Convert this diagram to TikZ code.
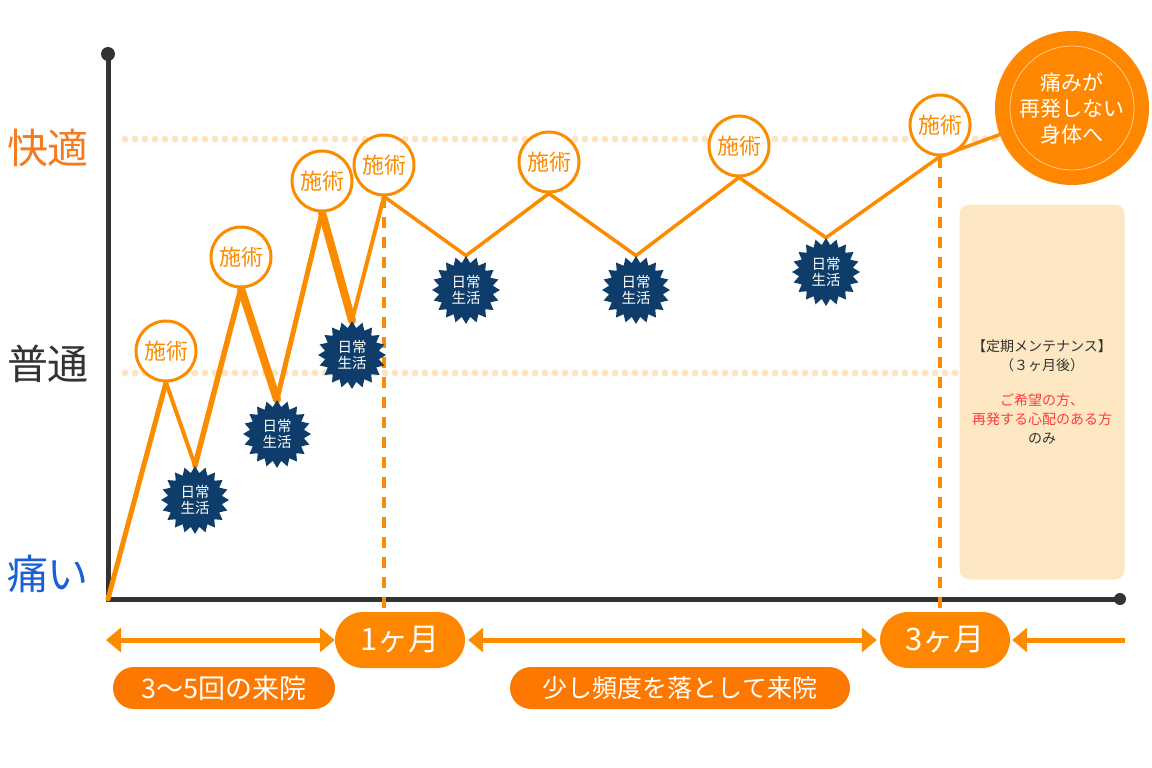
\documentclass[tikz,border=0pt]{standalone}
\usepackage{fontspec}
\setmainfont{Noto Sans CJK JP}
\usetikzlibrary{shapes.geometric,arrows.meta}
\pgfdeclarelayer{bg}
\pgfsetlayers{bg,main}
\definecolor{lineor}{HTML}{FB8C00}
\definecolor{pillor}{HTML}{FF8700}
\definecolor{labor}{HTML}{FD7800}
\definecolor{kaiteki}{HTML}{F47B20}
\definecolor{navy}{HTML}{0E3D6B}
\definecolor{painblue}{HTML}{1A5ED8}
\definecolor{axisgray}{HTML}{333333}
\definecolor{dotcol}{HTML}{FDE4C2}
\definecolor{boxcol}{HTML}{FDE8C3}
\definecolor{alertred}{HTML}{FF3B3B}
\begin{document}
\begin{tikzpicture}[x=1pt,y=-1pt,
  >={Triangle[length=15pt,width=24pt]},
  sejutsu/.style={circle, draw=lineor, line width=3pt, fill=white, minimum size=60pt, inner sep=0pt, text=lineor, font=\fontsize{22}{22}\selectfont},
  life/.style={star, star points=20, star point ratio=1.25, fill=navy, minimum size=68pt, inner sep=0pt, text=white, align=center, font=\fontsize{14.5}{16.5}\selectfont},
  mpill/.style={rectangle, rounded corners=28pt, fill=pillor, minimum width=130pt, minimum height=56pt, inner sep=0pt, text=white, font=\fontsize{31}{31}\selectfont},
  lpill/.style={rectangle, rounded corners=21pt, fill=labor, minimum height=42pt, inner sep=0pt, text=white, font=\fontsize{25}{25}\selectfont},
  ylab/.style={font=\fontsize{41}{41}\selectfont, inner sep=0pt},
  conn/.style={draw=lineor, line cap=round, line join=round},
  arr/.style={draw=lineor, line width=5pt},
  dashline/.style={draw=lineor, line width=4.5pt, dash pattern=on 11pt off 9pt},
  dotline/.style={draw=dotcol, line width=7pt, line cap=round, dash pattern=on 0pt off 10pt},
  axisline/.style={draw=axisgray, line width=5pt},
  rbox/.style={rectangle, rounded corners=10pt, fill=boxcol, minimum width=165pt, minimum height=375pt, align=center, text=axisgray, font=\fontsize{14}{19}\selectfont}
]
\useasboundingbox (0,0) rectangle (1152,768);

% axes
\coordinate (ytop) at (108,54);
\coordinate (o) at (108,599);
\coordinate (xend) at (1120,599);

% y labels
\node[ylab, text=kaiteki] (yk) at (48,148) {快適};
\node[ylab, text=axisgray] (yf) at (48,364) {普通};
\node[ylab, text=painblue] (yp) at (48,574) {痛い};

% treatment circles
\node[sejutsu] (c1) at (166,351) {施術};
\node[sejutsu] (c2) at (241,257) {施術};
\node[sejutsu] (c3) at (322,181) {施術};
\node[sejutsu] (c4) at (384,165) {施術};
\node[sejutsu] (c5) at (549,162) {施術};
\node[sejutsu] (c6) at (739,146) {施術};
\node[sejutsu] (c7) at (940,125) {施術};

% daily life stars
\node[life] (s1) at (195,500) {日常\\生活};
\node[life] (s2) at (277,434) {日常\\生活};
\node[life] (s3) at (352,355) {日常\\生活};
\node[life] (s4) at (466,290) {日常\\生活};
\node[life] (s5) at (636,290) {日常\\生活};
\node[life] (s6) at (826,272) {日常\\生活};

% big goal circle
\node[circle, fill=pillor, minimum size=154pt, inner sep=0pt, text=white, align=center, font=\fontsize{21}{26}\selectfont] (goal) at (1072,108) {痛みが\\再発しない\\身体へ};
\draw[white, opacity=.55, line width=0.8pt] (goal.center) circle (62pt);

% maintenance box
\node[rbox] (mt) at (1042,392) {【定期メンテナンス】\\（３ヶ月後）\\[16pt]\textcolor{alertred}{ご希望の方、}\\\textcolor{alertred}{再発する心配のある方}\\のみ};

% month pills
\node[mpill] (m1) at (400,640) {1ヶ月};
\node[mpill] (m3) at (945,640) {3ヶ月};

% duration labels
\node[lpill, minimum width=222pt, font=\fontsize{27}{27}\selectfont] (l1) at (224,688) {3〜5回の来院};
\node[lpill, minimum width=340pt] (l2) at (680,688) {少し頻度を落として来院};

% arrows
\coordinate (a1) at (106,640);
\coordinate (a3) at (1125,640);
\draw[arr, <->] (a1) -- (m1.west);
\draw[arr, <->] ([xshift=3pt]m1.east) -- ([xshift=-3pt]m3.west);
\draw[arr, ->] (a3) -- ([xshift=2pt]m3.east);

\begin{pgfonlayer}{bg}
  \draw[dotline] (125,139) -- (1000,139);
  \draw[dotline] (125,373) -- (956,373);
  \draw[axisline] (ytop) -- (o) -- (xend);
  \fill[axisgray] (ytop) circle (7pt);
  \fill[axisgray] (xend) circle (6pt);
  \draw[dashline] (c4.south) -- (c4.south |- m1.north);
  \draw[dashline] (c7.south) -- (c7.south |- m3.north);
  \draw[conn, line width=5pt] (o) -- (c1.south);
  \draw[conn, line width=4pt] (c1.south) -- (s1.north);
  \draw[conn, line width=5.5pt] (s1.north) -- (c2.south);
  \draw[conn, line width=8pt] (c2.south) -- (s2.north);
  \draw[conn, line width=5pt] (s2.north) -- (c3.south);
  \draw[conn, line width=8pt] (c3.south) -- (s3.north);
  \draw[conn, line width=4pt] (s3.north) -- (c4.south);
  \draw[conn, line width=3.5pt] (c4.south) -- (s4.north) -- (c5.south) -- (s5.north) -- (c6.south) -- (s6.north) -- (c7.south) -- (goal.center);
\end{pgfonlayer}
\end{tikzpicture}
\end{document}
